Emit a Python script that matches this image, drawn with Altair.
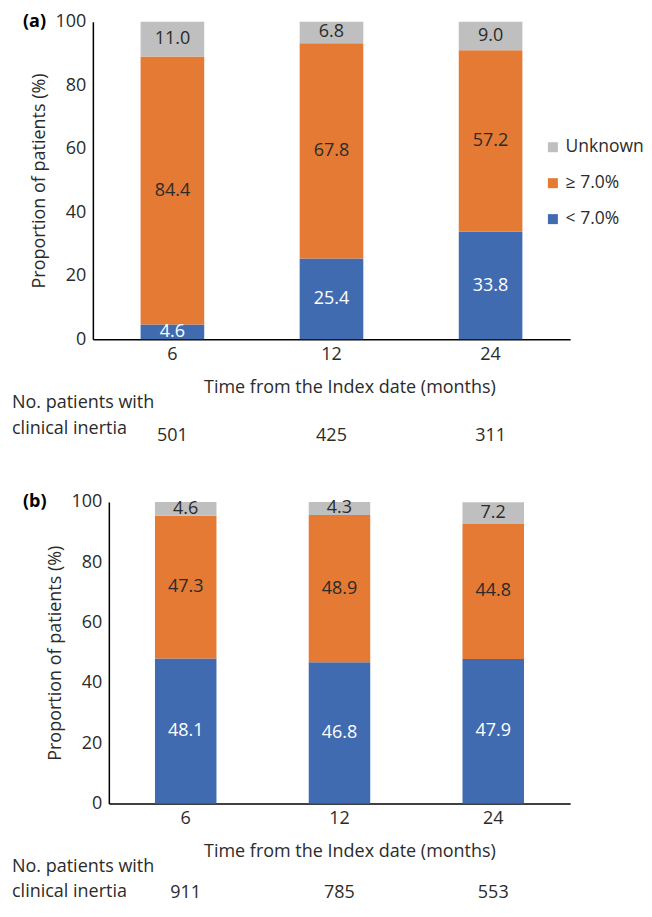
import altair as alt
import pandas as pd

times = ["6", "12", "24"]
cats = ["Unknown", "≥ 7.0%", "< 7.0%"]

a_below = [4.6, 25.4, 33.8]
a_above = [84.4, 67.8, 57.2]
a_unknown = [11.0, 6.8, 9.0]
a_counts = [501, 425, 311]

b_below = [48.1, 46.8, 47.9]
b_above = [47.3, 48.9, 44.8]
b_unknown = [4.6, 4.3, 7.2]
b_counts = [911, 785, 553]

colors = ["#BFBFBF", "#E47A33", "#416BB0"]
FONT = "Open Sans"
TXT = "#2b2b2b"
FS = 18
W = 478


def build_df(below, above, unknown):
    rows = []
    for i, t in enumerate(times):
        for order, (cat, vals) in enumerate(
            [("< 7.0%", below), ("≥ 7.0%", above), ("Unknown", unknown)]
        ):
            rows.append({"time": t, "cat": cat, "value": vals[i], "ord": order})
    return pd.DataFrame(rows)


def panel(tag, below, above, unknown, counts, x0, h, lx, ly,
          line1_dy, line2_dy, num_dy):
    df = build_df(below, above, unknown)
    ytitle = "Proportion of patients (%)"
    xenc = alt.X(
        "time:O", sort=times,
        scale=alt.Scale(paddingInner=0.6, paddingOuter=0.3, range=[x0, W]),
        axis=alt.Axis(title="Time from the Index date (months)", labelAngle=0,
                      labelPadding=6, titlePadding=15, titleX=257),
    )
    yaxis = alt.Axis(title=ytitle, values=[0, 20, 40, 60, 80, 100],
                     labelPadding=7, titlePadding=7)
    if x0:
        yaxis = alt.Axis(title=ytitle, values=[0, 20, 40, 60, 80, 100],
                         labelPadding=7, titlePadding=7, offset=-x0)
    bars = alt.Chart(df).mark_bar().encode(
        x=xenc,
        y=alt.Y("value:Q", stack="zero",
                scale=alt.Scale(domain=[0, 100], nice=False), axis=yaxis),
        color=alt.Color(
            "cat:N",
            scale=alt.Scale(domain=cats, range=colors),
            legend=alt.Legend(orient="none", legendX=lx, legendY=ly, title=None,
                              symbolType="square", symbolSize=100,
                              symbolStrokeWidth=0, labelFontSize=17.5,
                              labelFont=FONT, labelColor=TXT, rowPadding=17,
                              labelOffset=4, padding=0),
        ),
        order=alt.Order("ord:Q", sort="ascending"),
    )
    labels = (
        alt.Chart(df)
        .transform_stack(stack="value", groupby=["time"],
                         sort=[alt.SortField("ord", order="ascending")],
                         as_=["y0", "y1"])
        .transform_calculate(mid="(datum.y0 + datum.y1) / 2")
        .mark_text(font=FONT, fontSize=FS, baseline="middle")
        .encode(
            x=alt.X("time:O", sort=times),
            y=alt.Y("mid:Q", title=ytitle),
            text=alt.Text("value:Q", format=".1f"),
            color=alt.condition(alt.datum.cat == "< 7.0%", alt.value("white"),
                                alt.value(TXT)),
        )
    )
    cdf = pd.DataFrame({"time": times, "n": counts})
    nums = alt.Chart(cdf).mark_text(font=FONT, fontSize=FS, color=TXT,
                                    baseline="middle").encode(
        x=alt.X("time:O", sort=times),
        y=alt.value(h + num_dy),
        text="n:Q",
    )
    one = alt.Data(values=[{"k": 1}])
    line1 = alt.Chart(one).mark_text(font=FONT, fontSize=FS, color=TXT,
                                     align="left", baseline="middle").encode(
        x=alt.value(-81), y=alt.value(h + line1_dy),
        text=alt.value("No. patients with"))
    line2 = alt.Chart(one).mark_text(font=FONT, fontSize=FS, color=TXT,
                                     align="left", baseline="middle").encode(
        x=alt.value(-81), y=alt.value(h + line2_dy),
        text=alt.value("clinical inertia"))
    tagm = alt.Chart(one).mark_text(font=FONT, fontSize=FS, color="#000",
                                    fontWeight="bold", align="left",
                                    baseline="middle").encode(
        x=alt.value(-70), y=alt.value(0), text=alt.value(tag))
    return alt.layer(bars, labels, nums, line1, line2, tagm).properties(
        width=W, height=h)


pa = panel("(a)", a_below, a_above, a_unknown, a_counts, 0, 318,
           452, 117, 64, 90, 97)
pb = panel("(b)", b_below, b_above, b_unknown, b_counts, 16, 302,
           445, 85, 64, 89, 90)

chart = (
    alt.vconcat(pa, pb, spacing=48)
    .properties(padding={"left": 4, "top": 4, "right": 0, "bottom": 0})
    .configure_view(stroke=None)
    .configure_axis(
        domainColor="#000", domainWidth=1.5, ticks=False, grid=False,
        labelFont=FONT, labelFontSize=FS, labelColor=TXT,
        titleFont=FONT, titleFontSize=FS, titleFontWeight="normal",
        titleColor=TXT,
    )
)

chart.save("out.html", embed_options={"renderer": "svg", "actions": False})
